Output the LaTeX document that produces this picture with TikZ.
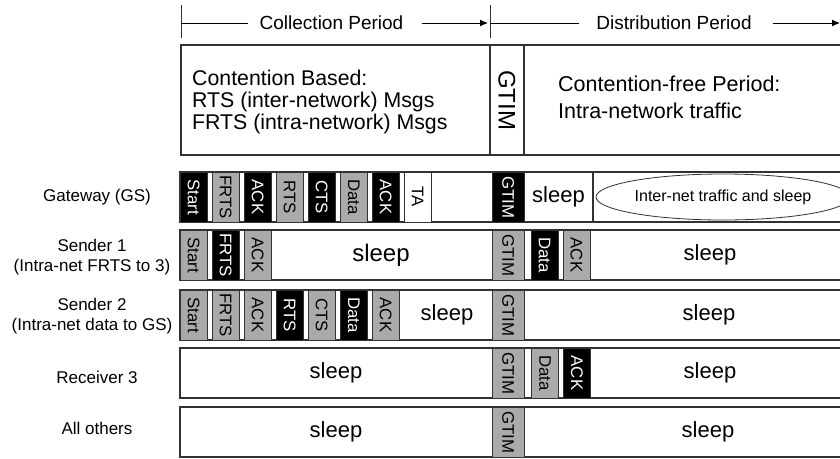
\documentclass[tikz,border=0pt]{standalone}
\usepackage{fontspec}
\setmainfont{Liberation Sans}
\usetikzlibrary{shapes.geometric,arrows.meta}
\definecolor{cellgray}{RGB}{170,170,170}
\definecolor{linec}{RGB}{50,50,50}
\begin{document}
\begin{tikzpicture}[x=1pt,y=-1pt,
  rowbox/.style={draw=linec, line width=1.1pt},
  cell/.style={draw=linec, line width=0.8pt, rotate=-90, minimum width=50pt,
    minimum height=27.5pt, inner sep=0pt, font=\fontsize{16.8}{17}\selectfont},
  blk/.style={cell, fill=black, text=white},
  gry/.style={cell, fill=cellgray, text=black},
  wht/.style={cell, fill=white},
  gtimw/.style={minimum height=31.5pt},
  rw/.style={minimum height=27pt},
  sleeptxt/.style={font=\fontsize{22}{24}\selectfont, inner sep=0pt},
  lbl/.style={font=\fontsize{17}{20}\selectfont, align=center, inner sep=0pt},
  hdr/.style={font=\fontsize{19}{20}\selectfont, inner sep=0pt},
  tick/.style={draw=linec, line width=1pt},
  period/.style={draw=black, line width=1pt}
]
\useasboundingbox (0,0) rectangle (840,458);
\clip (0,0) rectangle (840,458);
\fill[white] (0,0) rectangle (840,458);

% ---------- header ----------
\coordinate (t1a) at (181,5);  \coordinate (t1b) at (181,38);
\coordinate (t2a) at (490,5);  \coordinate (t2b) at (490,38);
\draw[tick] (t1a) -- (t1b);
\draw[tick] (t2a) -- (t2b);
\node[hdr] (cp) at (331.5,23) {Collection Period};
\node[hdr] (dp) at (674,23) {Distribution Period};
\coordinate (cpL) at (181,23); \coordinate (cpR) at (488,23);
\coordinate (dpL) at (490,23); \coordinate (dpR) at (840,23);
\draw[period] (cpL) -- ([xshift=-11pt]cp.west);
\draw[period, -{Latex[length=8pt,width=7pt]}] ([xshift=18pt]cp.east) -- (cpR);
\draw[period] (dpL) -- ([xshift=-17pt]dp.west);
\draw[period, -{Latex[length=8pt,width=7pt]}] ([xshift=21pt]dp.east) -- (dpR);

% ---------- top box ----------
\draw[rowbox] (181,45) rectangle (850,155);
\draw[rowbox] (490,45) -- (490,155);
\draw[rowbox] (524,45) -- (524,155);
\node[anchor=west, align=left, font=\fontsize{21.3}{22}\selectfont, inner sep=0pt] (ctext)
  at (192,102) {Contention Based:\\RTS (inter-network) Msgs\\FRTS (intra-network) Msgs};
\node[rotate=-90, font=\fontsize{24}{24}\selectfont, inner sep=0pt] (tgtim) at (507,100) {GTIM};
\node[anchor=west, align=left, font=\fontsize{21.5}{27}\selectfont, inner sep=0pt] (ftext)
  at (558,97) {Contention-free Period:\\Intra-network traffic};

% ---------- row labels ----------
\node[lbl] (lg) at (97,197) {Gateway (GS)};
\node[lbl] (l1) at (92,257) {Sender 1\\(Intra-net FRTS to 3)};
\node[lbl] (l2) at (92,316) {Sender 2\\(Intra-net data to GS)};
\node[lbl] (l3) at (97,377) {Receiver 3};
\node[lbl] (l4) at (97,428) {All others};

% ---------- Gateway row ----------
\draw[rowbox] (180,172) rectangle (850,222);
\node[blk] (g1) at (193.75,197) {Start};
\node[gry] (g2) at (225.75,197) {FRTS};
\node[blk] (g3) at (257.75,197) {ACK};
\node[gry] (g4) at (289.75,197) {RTS};
\node[blk] (g5) at (321.75,197) {CTS};
\node[gry] (g6) at (353.75,197) {Data};
\node[blk] (g7) at (385.75,197) {ACK};
\node[wht] (g8) at (417.75,197) {TA};
\node[blk,gtimw] (g9) at (508.25,197) {GTIM};
\node[sleeptxt] (g10) at (558.5,197) {sleep};
\draw[rowbox] (593,172) -- (593,222);
\node[draw=linec, line width=0.8pt, ellipse, minimum width=254pt, minimum height=46pt,
  inner sep=0pt, font=\fontsize{16}{18}\selectfont] (gell) at (723,197) {Inter-net traffic and sleep};

% ---------- Sender 1 row ----------
\draw[rowbox] (180,230) rectangle (850,280);
\node[gry] (a1) at (193.75,255) {Start};
\node[blk] (a2) at (225.75,255) {FRTS};
\node[gry] (a3) at (257.75,255) {ACK};
\node[sleeptxt, font=\fontsize{24}{26}\selectfont] (a4) at (381,255) {sleep};
\node[gry,gtimw] (a5) at (508.25,255) {GTIM};
\node[blk,rw] (a6) at (544.5,255) {Data};
\node[gry,rw] (a7) at (576.5,255) {ACK};
\node[sleeptxt] (a8) at (710,255) {sleep};

% ---------- Sender 2 row ----------
\draw[rowbox] (180,290) rectangle (850,340);
\node[gry] (b1) at (193.75,315) {Start};
\node[gry] (b2) at (225.75,315) {FRTS};
\node[gry] (b3) at (257.75,315) {ACK};
\node[blk] (b4) at (289.75,315) {RTS};
\node[gry] (b5) at (321.75,315) {CTS};
\node[blk] (b6) at (353.75,315) {Data};
\node[gry] (b7) at (385.75,315) {ACK};
\node[sleeptxt] (b8) at (447,315) {sleep};
\node[gry,gtimw] (b9) at (508.25,315) {GTIM};
\node[sleeptxt] (b10) at (709,315) {sleep};

% ---------- Receiver 3 row ----------
\draw[rowbox] (180,348) rectangle (850,398);
\node[sleeptxt] (r1) at (336,373) {sleep};
\node[gry,gtimw] (r2) at (508.25,373) {GTIM};
\node[gry,rw] (r3) at (545,373) {Data};
\node[blk,rw] (r4) at (577,373) {ACK};
\node[sleeptxt] (r5) at (710,373) {sleep};

% ---------- All others row ----------
\draw[rowbox] (180,407) rectangle (850,457);
\node[sleeptxt] (o1) at (336,432) {sleep};
\node[gry,gtimw] (o2) at (508.25,432) {GTIM};
\node[sleeptxt] (o3) at (708,432) {sleep};
\end{tikzpicture}
\end{document}
